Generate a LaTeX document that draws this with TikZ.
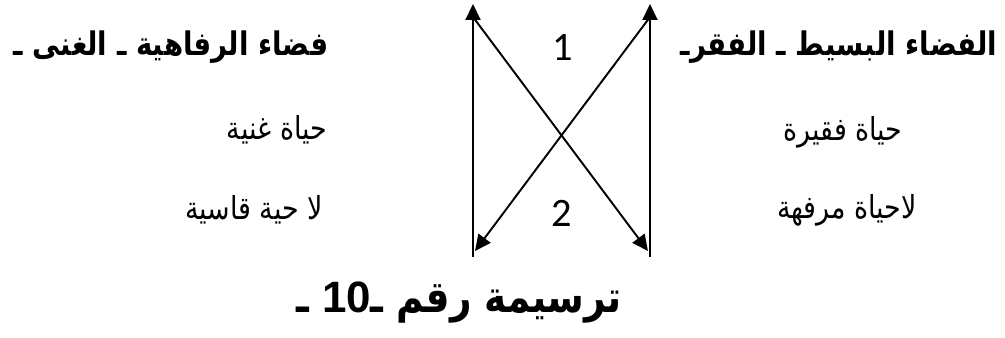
\documentclass[tikz,border=0pt]{standalone}
\usepackage{fontspec}
\usetikzlibrary{arrows.meta}
\TeXXeTstate=1
\newfontfamily\arabicfont[Script=Arabic, FakeStretch=0.85]{DejaVu Sans}
\newfontfamily\numfont{Carlito}
\newfontfamily\titlenum{Liberation Sans}

\begin{document}
\begin{tikzpicture}[x=0.02cm, y=-0.02cm, line width=1.1pt,
    arr/.style={-{Triangle[length=0.32cm, width=0.3cm]}},
    head/.style={font=\arabicfont\bfseries\fontsize{18.5}{22}\selectfont, inner sep=0pt},
    life/.style={font=\arabicfont\fontsize{18}{22}\selectfont, inner sep=0pt},
    num/.style={font=\numfont\fontsize{23}{26}\selectfont, inner sep=0pt}]
    \useasboundingbox (0,0) rectangle (1005,338);

    % Corner points of the diagram
    \coordinate (lb) at (473,257);
    \coordinate (lt) at (473,4);
    \coordinate (rb) at (650,257);
    \coordinate (rt) at (650,4);
    \coordinate (ls) at (473,17);
    \coordinate (rs) at (650,17);
    \coordinate (le) at (475,251);
    \coordinate (re) at (648,251);

    % Vertical arrows
    \draw[arr] (lb) -- (lt);
    \draw[arr] (rb) -- (rt);

    % Crossing arrows
    \draw[arr] (rs) -- (le);
    \draw[arr] (ls) -- (re);

    % Numbers
    \node[num] (one) at (563,47) {1};
    \node[num] (two) at (562,213) {2};

    % Right side: the simple space
    \node[head] (simple) at (839,47) {\beginR الفضاء البسيط ـ الفقرـ\endR};
    \node[life] (poor) at (843,132) {\beginR حياة فقيرة\endR};
    \node[life] (nolux) at (847,210) {\beginR لاحياة مرفهة\endR};

    % Left side: the welfare space
    \node[head] (welfare) at (171,47) {\beginR فضاء الرفاهية ـ الغنى ـ\endR};
    \node[life] (rich) at (277,130) {\beginR حياة غنية\endR};
    \node[life] (nohard) at (254,210) {\beginR لا حية قاسية\endR};

    % Caption
    \node[head, font=\arabicfont\bfseries\fontsize{25}{30}\selectfont] (caption) at (459,303)
        {\beginR ترسيمة رقم ـ\beginL{\titlenum\bfseries 10}\endL{} ـ\endR};
\end{tikzpicture}
\end{document}
